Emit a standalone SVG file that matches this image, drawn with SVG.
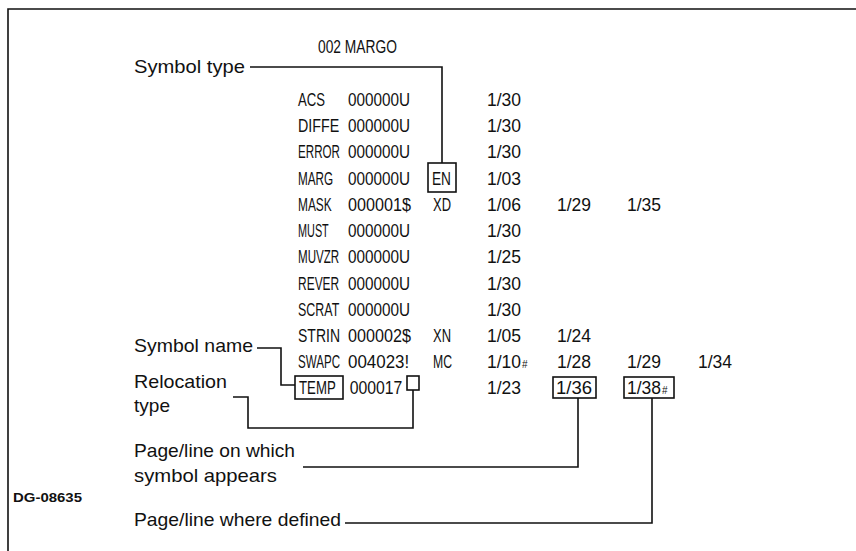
<svg xmlns="http://www.w3.org/2000/svg" width="856" height="551" viewBox="0 0 856 551">
<style>
.lbl{font-family:"Liberation Sans",Arial,sans-serif;font-size:19px;fill:#111}
.lst{font-family:"Liberation Sans",Arial,sans-serif;font-size:17.5px;fill:#111}
.ln{fill:none;stroke:#111;stroke-width:1.6}
.bx{fill:#fff;stroke:#111;stroke-width:1.6}
.sm{font-size:10px}
</style>
<rect width="856" height="551" fill="#fff"/>
<g id="frame">
<path class="ln" d="M8,551 V9 H856" stroke-width="2"/>
<text x="13" y="502" font-family="Liberation Sans,Arial,sans-serif" font-size="13.5" font-weight="bold" textLength="69" lengthAdjust="spacingAndGlyphs" fill="#111">DG-08635</text>
</g>
<g id="connectors">
<path class="ln" d="M250,67 H442 V163"/>
<path class="ln" d="M257,348 H281 V385 H295"/>
<path class="ln" d="M233,397 H248 V428 H413 V390"/>
<path class="ln" d="M578,398 V467 H303"/>
<path class="ln" d="M652,398 V523 H345"/>
</g>
<g id="listing" class="lst">
<text x="318" y="53" textLength="79" lengthAdjust="spacingAndGlyphs">002 MARGO</text>
<g id="names" transform="translate(298,0) scale(0.75,1)">
<text x="0" y="106" textLength="36" lengthAdjust="spacingAndGlyphs">ACS</text>
<text x="0" y="132" textLength="55" lengthAdjust="spacingAndGlyphs">DIFFE</text>
<text x="0" y="158" textLength="56" lengthAdjust="spacingAndGlyphs">ERROR</text>
<text x="0" y="185" textLength="47" lengthAdjust="spacingAndGlyphs">MARG</text>
<text x="0" y="211" textLength="45" lengthAdjust="spacingAndGlyphs">MASK</text>
<text x="0" y="237" textLength="41" lengthAdjust="spacingAndGlyphs">MUST</text>
<text x="0" y="263" textLength="55" lengthAdjust="spacingAndGlyphs">MUVZR</text>
<text x="0" y="290" textLength="55" lengthAdjust="spacingAndGlyphs">REVER</text>
<text x="0" y="316" textLength="55" lengthAdjust="spacingAndGlyphs">SCRAT</text>
<text x="0" y="342" textLength="56" lengthAdjust="spacingAndGlyphs">STRIN</text>
<text x="0" y="368" textLength="56" lengthAdjust="spacingAndGlyphs">SWAPC</text>
</g>
<g id="values" transform="translate(348,0) scale(0.85,1)">
<text x="0" y="106" textLength="73" lengthAdjust="spacingAndGlyphs">000000U</text>
<text x="0" y="132" textLength="73" lengthAdjust="spacingAndGlyphs">000000U</text>
<text x="0" y="158" textLength="73" lengthAdjust="spacingAndGlyphs">000000U</text>
<text x="0" y="185" textLength="73" lengthAdjust="spacingAndGlyphs">000000U</text>
<text x="0" y="211" textLength="74" lengthAdjust="spacingAndGlyphs">000001$</text>
<text x="0" y="237" textLength="73" lengthAdjust="spacingAndGlyphs">000000U</text>
<text x="0" y="263" textLength="73" lengthAdjust="spacingAndGlyphs">000000U</text>
<text x="0" y="290" textLength="73" lengthAdjust="spacingAndGlyphs">000000U</text>
<text x="0" y="316" textLength="73" lengthAdjust="spacingAndGlyphs">000000U</text>
<text x="0" y="342" textLength="74" lengthAdjust="spacingAndGlyphs">000002$</text>
<text x="0" y="368" textLength="72" lengthAdjust="spacingAndGlyphs">004023!</text>
<text x="2" y="394" textLength="62" lengthAdjust="spacingAndGlyphs">000017</text>
</g>
<text x="433" y="211" textLength="18" lengthAdjust="spacingAndGlyphs">XD</text>
<text x="433" y="342" textLength="18" lengthAdjust="spacingAndGlyphs">XN</text>
<text x="433" y="368" textLength="19" lengthAdjust="spacingAndGlyphs">MC</text>
<text x="487" y="106">1/30</text>
<text x="487" y="132">1/30</text>
<text x="487" y="158">1/30</text>
<text x="487" y="185">1/03</text>
<text x="487" y="211">1/06</text>
<text x="557" y="211">1/29</text>
<text x="627" y="211">1/35</text>
<text x="487" y="237">1/30</text>
<text x="487" y="263">1/25</text>
<text x="487" y="290">1/30</text>
<text x="487" y="316">1/30</text>
<text x="487" y="342">1/05</text>
<text x="557" y="342">1/24</text>
<text x="487" y="368">1/10<tspan class="sm" dx="1">#</tspan></text>
<text x="557" y="368">1/28</text>
<text x="627" y="368">1/29</text>
<text x="698" y="368">1/34</text>
<text x="487" y="394">1/23</text>
</g>
<g id="symbol-type">
<text class="lbl" x="134" y="73" textLength="111" lengthAdjust="spacingAndGlyphs">Symbol type</text>
<rect class="bx" x="428" y="163" width="28" height="29"/>
<text class="lst" x="432" y="185" textLength="19" lengthAdjust="spacingAndGlyphs">EN</text>
</g>
<g id="symbol-name">
<text class="lbl" x="134" y="352" textLength="119" lengthAdjust="spacingAndGlyphs">Symbol name</text>
<rect class="bx" x="295" y="376" width="48" height="23"/>
<text class="lst" transform="translate(299,0) scale(0.75,1)" x="0" y="394" textLength="49" lengthAdjust="spacingAndGlyphs">TEMP</text>
</g>
<g id="relocation-type">
<text class="lbl" x="134" y="388" textLength="93" lengthAdjust="spacingAndGlyphs">Relocation</text>
<text class="lbl" x="134" y="412" textLength="36" lengthAdjust="spacingAndGlyphs">type</text>
<rect class="bx" x="407" y="376" width="12" height="14"/>
</g>
<g id="page-line-appears">
<text class="lbl" x="134" y="457" textLength="161" lengthAdjust="spacingAndGlyphs">Page/line on which</text>
<text class="lbl" x="134" y="482" textLength="143" lengthAdjust="spacingAndGlyphs">symbol appears</text>
<rect class="bx" x="553" y="377" width="43" height="21"/>
<text class="lst" x="556" y="394" textLength="36" lengthAdjust="spacingAndGlyphs">1/36</text>
</g>
<g id="page-line-defined">
<text class="lbl" x="134" y="526" textLength="207" lengthAdjust="spacingAndGlyphs">Page/line where defined</text>
<rect class="bx" x="624" y="377" width="50" height="21"/>
<text class="lst" x="627" y="394">1/38<tspan class="sm" dx="1">#</tspan></text>
</g>
</svg>
